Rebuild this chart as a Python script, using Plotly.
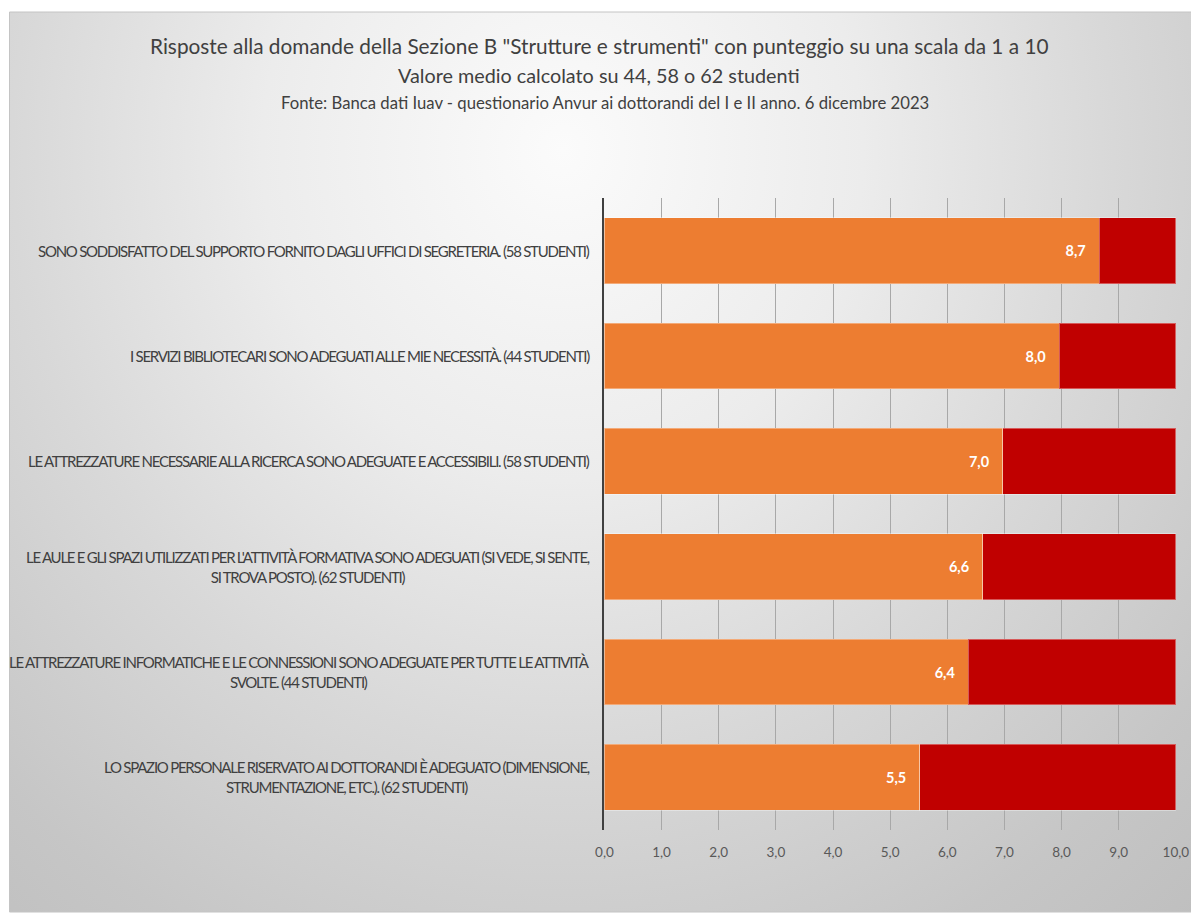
import plotly.graph_objects as go

# Domande della Sezione B (dall'alto verso il basso), già spezzate su due righe dove serve
domande = [
    "SONO SODDISFATTO DEL SUPPORTO FORNITO DAGLI UFFICI DI SEGRETERIA. (58 STUDENTI)",
    "I SERVIZI BIBLIOTECARI SONO ADEGUATI ALLE MIE NECESSITÀ. (44 STUDENTI)",
    "LE ATTREZZATURE NECESSARIE ALLA RICERCA SONO ADEGUATE E ACCESSIBILI. (58 STUDENTI)",
    "LE AULE E GLI SPAZI UTILIZZATI PER L'ATTIVITÀ FORMATIVA SONO ADEGUATI (SI VEDE, SI SENTE,<br>SI TROVA POSTO). (62 STUDENTI)",
    "LE ATTREZZATURE INFORMATICHE E LE CONNESSIONI SONO ADEGUATE PER TUTTE LE ATTIVITÀ<br>SVOLTE. (44 STUDENTI)",
    "LO SPAZIO PERSONALE RISERVATO AI DOTTORANDI È ADEGUATO (DIMENSIONE,<br>STRUMENTAZIONE, ETC.). (62 STUDENTI)",
]
# Punteggio medio (scala 1-10) e parte mancante fino a 10
media = [8.66, 7.96, 6.97, 6.62, 6.37, 5.52]
resto = [1.34, 2.04, 3.03, 3.38, 3.63, 4.48]
tick_valori = [0, 1, 2, 3, 4, 5, 6, 7, 8, 9, 10]

titolo_1 = 'Risposte alla domande della Sezione B "Strutture e strumenti" con punteggio su una scala da 1 a 10'
titolo_2 = "Valore medio calcolato su 44, 58 o 62 studenti"
titolo_3 = "Fonte: Banca dati Iuav - questionario Anvur ai dottorandi del I e II anno. 6 dicembre 2023"

W, H = 1207, 914
FONT = "Lato, Liberation Sans, Arial, sans-serif"
TXT = "#404040"
STRETTO = "letter-spacing:-1.25px"  # etichette delle domande più compatte

# pannello del grafico in pixel
PX0, PX1, PY0, PY1 = 0.5, 1207, 12, 912
# area dei dati in pixel
AX0, AX1, AY0, AY1 = 606.5, 1188.5, 198, 830
LABEL_X = 594  # bordo destro delle etichette delle domande

fig = go.Figure()

# sfondo con sfumatura radiale (centro chiaro, bordi grigi)
cx, cy, rx, ry = 564, 150, 1020, 1100
fig.add_trace(go.Scatter(
    x=[cx - rx, cx + rx, cx + rx, cx - rx, cx - rx],
    y=[cy - ry, cy - ry, cy + ry, cy + ry, cy - ry],
    mode="lines", fill="toself", line=dict(width=0),
    fillgradient=dict(type="radial",
                      colorscale=[[0, "#fbfbfb"], [0.3, "#ececec"], [0.55, "#d8d8d8"],
                                  [0.8, "#c6c6c6"], [1, "#bcbcbc"]]),
    hoverinfo="skip", showlegend=False, xaxis="x", yaxis="y",
))

fig.add_trace(go.Bar(
    y=domande, x=media, orientation="h", name="Media",
    marker=dict(color="#ED7D31", line=dict(color="rgba(255,255,255,0.35)", width=1)),
    texttemplate="%{x:.1f}\u00a0\u00a0\u00a0", textposition="inside", insidetextanchor="end",
    textfont=dict(color="white", size=14.5, family=FONT, weight="bold"),
    constraintext="none", xaxis="x2", yaxis="y2", showlegend=False,
))
fig.add_trace(go.Bar(
    y=domande, x=resto, orientation="h", name="Resto",
    marker=dict(color="#C00000", line=dict(color="rgba(255,255,255,0.35)", width=1)),
    xaxis="x2", yaxis="y2", showlegend=False, hoverinfo="skip",
))

annotations = [
    dict(text=titolo_1, x=601 / W, y=1 - 45 / H, font=dict(size=20.8, color=TXT, family=FONT)),
    dict(text=titolo_2, x=601 / W, y=1 - 75 / H, font=dict(size=19.8, color=TXT, family=FONT)),
    dict(text=titolo_3, x=607 / W, y=1 - 103 / H, font=dict(size=16.7, color=TXT, family=FONT)),
]
for a in annotations:
    a.update(xref="paper", yref="paper", xanchor="center", yanchor="middle", showarrow=False)

for d in domande:
    txt = "<br>".join(f'<span style="{STRETTO}">{p}</span>' for p in d.split("<br>"))
    annotations.append(dict(
        text=txt, xref="paper", yref="y2", x=LABEL_X / W, y=d, xanchor="right", yanchor="middle",
        align="center", showarrow=False, font=dict(size=15, color=TXT, family=FONT),
    ))

fig.update_layout(
    width=W, height=H, autosize=False, margin=dict(l=0, r=0, t=0, b=0),
    paper_bgcolor="white", plot_bgcolor="rgba(0,0,0,0)",
    barmode="stack", bargap=0.374, separators=",.",
    xaxis=dict(domain=[0, 1], range=[0, W], visible=False, fixedrange=True),
    yaxis=dict(domain=[1 - PY1 / H, 1 - PY0 / H], range=[PY1, PY0], visible=False, fixedrange=True),
    xaxis2=dict(domain=[AX0 / W, AX1 / W], anchor="y2", range=[0, 10], tickvals=tick_valori,
                tickformat=".1f", showgrid=True, gridcolor="#a8a8a8", gridwidth=1,
                zeroline=False, showline=False, ticks="", ticklabelstandoff=12,
                tickfont=dict(size=13.5, color="#595959", family=FONT)),
    yaxis2=dict(domain=[1 - AY1 / H, 1 - AY0 / H], anchor="x2", type="category",
                autorange="reversed", showticklabels=False, showgrid=False,
                showline=True, linecolor="#404040", linewidth=2, ticks=""),
    annotations=annotations,
    shapes=[dict(type="rect", xref="paper", yref="paper", x0=PX0 / W, x1=1, y0=1 - PY1 / H,
                 y1=1 - PY0 / H, line=dict(color="#c4c4c4", width=1), layer="above")],
    font=dict(family=FONT),
)

fig.write_html("out.html")
